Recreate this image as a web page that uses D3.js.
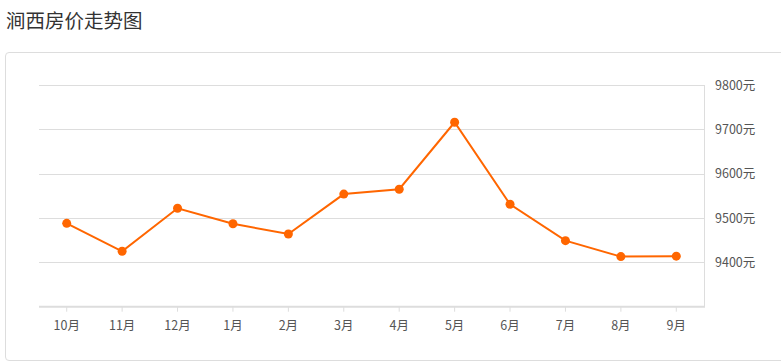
<!DOCTYPE html>
<html>
<head>
<meta charset="utf-8">
<style>
  body { margin: 0; background: #fff; font-family: "Noto Sans CJK SC", "Microsoft YaHei", sans-serif; }
  .title { position: absolute; left: 6px; top: 7px; font-size: 19.5px; color: #333; line-height: 26px; }
  .panel { position: absolute; left: 5px; top: 52px; width: 790px; height: 309px;
           border: 1px solid #ddd; border-radius: 4px; box-sizing: border-box; }
  svg { position: absolute; left: 0; top: 0; }
  .tick text { font-family: "Noto Sans CJK SC", sans-serif; font-size: 12.5px; fill: #555; }
</style>
</head>
<body>
<div class="title">涧西房价走势图</div>
<div class="panel"></div>
<div id="chart"></div>
<script src="https://d3js.org/d3.v7.min.js"></script>
<script>
// months & average price (元/㎡)
const months = ["10月","11月","12月","1月","2月","3月","4月","5月","6月","7月","8月","9月"];
const prices = [9488, 9425, 9522, 9487, 9464, 9554, 9565, 9716, 9531, 9449, 9413, 9414];
const yTicks = [9400, 9500, 9600, 9700, 9800];

const W = 781, H = 364;
const plotL = 39, plotR = 704, plotT = 85, plotB = 306.7;

const svg = d3.select("#chart").append("svg")
  .attr("width", W).attr("height", H);

const x = d3.scaleBand().domain(months).range([plotL, plotR]);
const y = d3.scaleLinear().domain([9300, 9800]).range([plotB, plotT]);

// grid lines
svg.append("g")
  .selectAll("line")
  .data(yTicks)
  .join("line")
    .attr("x1", plotL).attr("x2", plotR)
    .attr("y1", d => Math.round(y(d)) + 0.5).attr("y2", d => Math.round(y(d)) + 0.5)
    .attr("stroke", "#ddd");

// right border line
svg.append("line")
  .attr("x1", plotR + 0.5).attr("x2", plotR + 0.5)
  .attr("y1", plotT).attr("y2", plotB)
  .attr("stroke", "#ddd");

// y axis on the right
const yAxis = svg.append("g")
  .attr("transform", `translate(${plotR},0)`)
  .call(d3.axisRight(y).tickValues(yTicks).tickSize(0).tickPadding(11).tickFormat(d => d + "元"));
yAxis.select(".domain").remove();

// x axis
const xAxis = svg.append("g")
  .attr("transform", `translate(0,${plotB})`)
  .call(d3.axisBottom(x).tickSize(5).tickPadding(9));
xAxis.select(".domain").attr("stroke", "#ddd").attr("stroke-width", 2)
  .attr("d", `M${plotL},0H${plotR + 1}`);
xAxis.selectAll(".tick line").attr("stroke", "#ddd");

const cx = d => x(d) + x.bandwidth() / 2;

// line
const line = d3.line()
  .x((d, i) => cx(months[i]))
  .y(d => y(d));

svg.append("path")
  .datum(prices)
  .attr("fill", "none")
  .attr("stroke", "#ff6600")
  .attr("stroke-width", 2)
  .attr("d", line);

svg.append("g")
  .selectAll("circle")
  .data(prices)
  .join("circle")
    .attr("cx", (d, i) => cx(months[i]))
    .attr("cy", d => y(d))
    .attr("r", 4.5)
    .attr("fill", "#ff6600");
</script>
</body>
</html>
